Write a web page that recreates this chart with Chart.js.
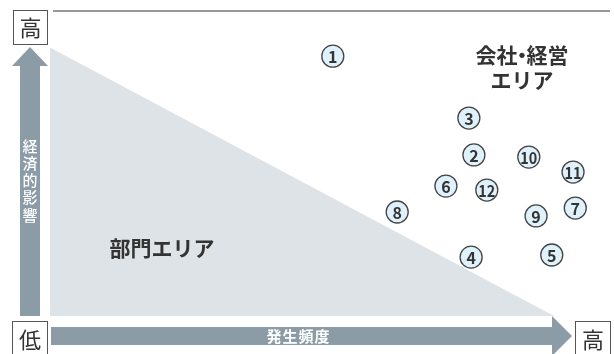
<!DOCTYPE html>
<html>
<head>
<meta charset="utf-8">
<script src="https://cdn.jsdelivr.net/npm/chart.js@4"></script>
<style>
  body { margin: 0; background: #fff; }
</style>
</head>
<body>
<canvas id="matrix" width="614" height="354"></canvas>
<script>
// risk items: frequency (x) and economic impact (y), 0-10 scale
const itemNo = ["1", "2", "3", "4", "5", "6", "7", "8", "9", "10", "11", "12"];
const frequency = [5.05, 7.57, 7.48, 7.52, 8.96, 7.07, 9.38, 6.2, 8.68, 8.55, 9.34, 7.8];
const impact = [8.52, 5.28, 6.49, 1.93, 2.0, 4.26, 3.54, 3.41, 3.28, 5.21, 4.72, 4.13];

// department area triangle
const deptX = [0, 9];
const deptY = [8.8, 0];

const xTitle = "発生頻度";
const yTitle = "経済的影響";
const highLabel = "高";
const lowLabel = "低";
const companyArea = ["会社・経営", "エリア"];
const deptArea = "部門エリア";

const FONT = '"Noto Sans CJK JP", "Noto Sans", sans-serif';
const ARROW = "#8b9ca7";
const INK = "#333";

const ctx = document.getElementById("matrix").getContext("2d");

function box(c, x, y, w, h, text) {
  c.fillStyle = "#fff";
  c.fillRect(x, y, w, h);
  c.strokeStyle = "#555";
  c.lineWidth = 1;
  c.strokeRect(x + 0.5, y + 0.5, w, h);
  c.fillStyle = INK;
  c.font = "22px " + FONT;
  c.textAlign = "center";
  c.textBaseline = "middle";
  c.fillText(text, x + w / 2 + 0.5, y + h / 2 + 1);
}

// draw text with a tighter middle dot
function tightText(c, text, cx, cy) {
  const parts = text.split("・");
  const w0 = c.measureText(parts[0]).width;
  const w1 = c.measureText(parts[1]).width;
  const dot = 9;
  const total = w0 + dot + w1;
  const x0 = cx - total / 2;
  c.textAlign = "left";
  c.fillText(parts[0], x0, cy);
  c.textAlign = "center";
  c.fillText("・", x0 + w0 + dot / 2, cy);
  c.textAlign = "left";
  c.fillText(parts[1], x0 + w0 + dot, cy);
  c.textAlign = "center";
}

const decor = {
  id: "decor",
  beforeDatasetsDraw(chart) {
    const c = chart.ctx;
    const a = chart.chartArea;
    c.save();
    // top border line
    c.strokeStyle = "#777";
    c.lineWidth = 1.5;
    c.beginPath();
    c.moveTo(a.left + 3, a.top);
    c.lineTo(a.right, a.top);
    c.stroke();

    // vertical arrow
    c.fillStyle = ARROW;
    c.beginPath();
    c.moveTo(20, a.bottom);
    c.lineTo(20, 66);
    c.lineTo(12, 66);
    c.lineTo(30, 47);
    c.lineTo(48, 66);
    c.lineTo(40, 66);
    c.lineTo(40, a.bottom);
    c.closePath();
    c.fill();

    // horizontal arrow
    c.beginPath();
    c.moveTo(51, 327);
    c.lineTo(552, 327);
    c.lineTo(552, 316);
    c.lineTo(572, 336);
    c.lineTo(552, 356);
    c.lineTo(552, 345);
    c.lineTo(51, 345);
    c.closePath();
    c.fill();

    // axis titles
    c.fillStyle = "#fff";
    c.textAlign = "center";
    c.textBaseline = "middle";
    c.font = "500 15px " + FONT;
    [...yTitle].forEach((ch, i) => c.fillText(ch, 30, 146 + i * 17.2));
    c.font = "bold 15px " + FONT;
    c.fillText(xTitle.split("").join(String.fromCharCode(8202)), 298, 336);

    // high / low boxes
    box(c, 13, 10, 34, 34, highLabel);
    box(c, 12, 321, 35, 36, lowLabel);
    box(c, 575, 321, 35, 36, highLabel);

    // area labels
    const xs = chart.scales.x, ys = chart.scales.y;
    c.fillStyle = INK;
    c.font = "bold 21px " + FONT;
    tightText(c, companyArea[0], xs.getPixelForValue(8.43), ys.getPixelForValue(8.56));
    c.fillText(companyArea[1], xs.getPixelForValue(8.43), ys.getPixelForValue(7.74));
    c.restore();
  },
  afterDatasetsDraw(chart) {
    const c = chart.ctx;
    const xs = chart.scales.x, ys = chart.scales.y;
    c.save();
    c.fillStyle = INK;
    c.textAlign = "center";
    c.textBaseline = "middle";
    c.font = "bold 21px " + FONT;
    c.fillText(deptArea, xs.getPixelForValue(2.0), ys.getPixelForValue(2.23));
    const meta = chart.getDatasetMeta(1);
    c.font = "bold 16px " + FONT;
    meta.data.forEach((pt, i) => {
      c.fillText(itemNo[i], pt.x, pt.y + 1, 17);
    });
    c.restore();
  }
};

new Chart(ctx, {
  type: "scatter",
  data: {
    datasets: [
      {
        data: deptX.map((x, i) => ({ x, y: deptY[i] })),
        showLine: true,
        fill: "origin",
        backgroundColor: "#dde3e7",
        borderWidth: 0,
        pointRadius: 0,
        tension: 0,
        order: 2,
      },
      {
        data: frequency.map((x, i) => ({ x, y: impact[i] })),
        pointRadius: 11,
        pointBackgroundColor: "#dff1fb",
        pointBorderColor: "#444",
        pointBorderWidth: 1.3,
        order: 1,
      },
    ],
  },
  options: {
    responsive: false,
    animation: false,
    layout: { autoPadding: false, padding: { left: 50, top: 11, right: 4, bottom: 38 } },
    plugins: { legend: { display: false }, tooltip: { enabled: false } },
    scales: {
      x: { type: "linear", min: 0, max: 10, display: false },
      y: { type: "linear", min: 0, max: 10, display: false },
    },
  },
  plugins: [decor],
});
</script>
</body>
</html>
